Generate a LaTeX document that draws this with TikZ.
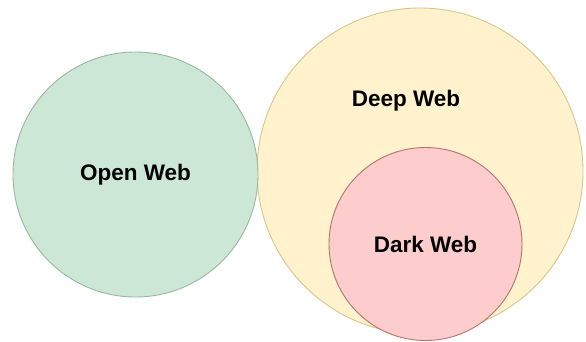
\documentclass[tikz,border=0pt]{standalone}
\usepackage{fontspec}
\setmainfont{Liberation Sans}
\definecolor{openfill}{HTML}{CDE7D6}
\definecolor{opendraw}{HTML}{98B89E}
\definecolor{deepfill}{HTML}{FFF2CC}
\definecolor{deepdraw}{HTML}{D9C58C}
\definecolor{darkfill}{HTML}{FDCCCC}
\definecolor{darkdraw}{HTML}{B8736C}
\begin{document}
\begin{tikzpicture}[x=1pt,y=-1pt,
  every node/.style={font=\fontsize{22.5}{26}\selectfont\bfseries},
  webset/.style={circle,draw,line width=0.9pt,inner sep=0pt}]
  \useasboundingbox (0,0) rectangle (586,342);
  \node (deep) [webset,fill=deepfill,draw=deepdraw,minimum size=326pt] at (420,171) {};
  \node (deeplabel) at (406,101) {Deep Web};
  \node (dark) [webset,fill=darkfill,draw=darkdraw,minimum size=193pt] at (425.5,244) {Dark Web};
  \node (open) [webset,fill=openfill,draw=opendraw,minimum size=245pt] at (135.5,174.5) {Open Web};
\end{tikzpicture}
\end{document}
